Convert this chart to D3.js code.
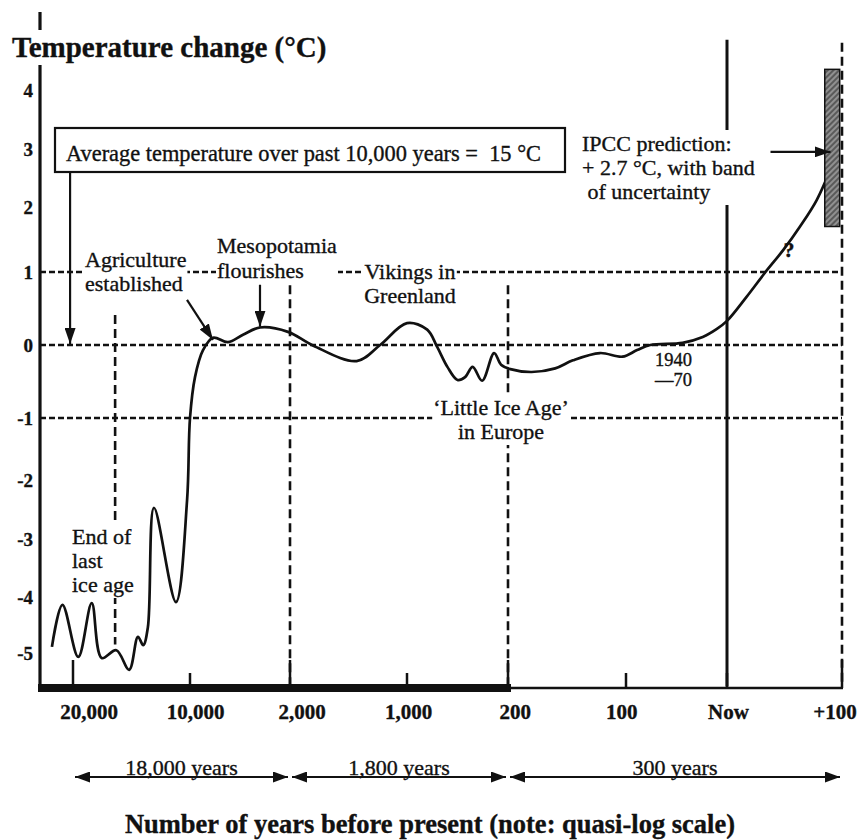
<!DOCTYPE html>
<html><head><meta charset="utf-8">
<script src="https://cdn.jsdelivr.net/npm/d3@7/dist/d3.min.js"></script>
<style>
html,body{margin:0;padding:0;background:#fff;}
svg{display:block;}
text{font-family:"Liberation Serif","Times New Roman",Times,serif;fill:#111;stroke:#111;stroke-width:0.35px;}
</style></head>
<body><svg id="chart" width="858" height="840"></svg>
<script>
// ---------- data ----------
const xTickYears  = [20000, 10000, 2000, 1000, 200, 100, 0, -100];
const xTickLabels = ["20,000", "10,000", "2,000", "1,000", "200", "100", "Now", "+100"];
const yTicks      = [-5, -4, -3, -2, -1, 0, 1, 2, 3, 4];
const gridTemps   = [1, 0, -1];
const spanBounds  = [20000, 2000, 200, -100];
const spanLabels  = ["18,000 years", "1,800 years", "300 years"];

const pastYears = [21800, 20900, 19550, 18400, 17550, 16300, 15200, 14450, 14000, 13600,
                   13080, 11200, 10250, 10000, 9600, 8960, 8160, 6960, 5760, 4400,
                   2160, 1800, 1430, 1230, 1000, 840, 760, 680, 600, 540,
                   480, 405, 310, 255, 198, 180, 160, 145, 122, 103,
                   89, 76, 44, 24, 10, 0];
const pastTemps = [-4.89, -4.14, -5.07, -4.11, -5.09, -4.95, -5.30, -4.71, -4.86, -4.54,
                   -2.47, -4.09, -2.34, -1.00, -0.44, -0.07, 0.10, 0.04, 0.14, 0.24,
                   0.18, -0.01, -0.22, 0.00, 0.30, 0.21, -0.03, -0.30, -0.48, -0.44,
                   -0.30, -0.49, -0.11, -0.27, -0.33, -0.37, -0.32, -0.21, -0.11, -0.16,
                   -0.07, 0.00, 0.03, 0.11, 0.22, 0.33];
const projYears = [-17, -33, -49, -63.5, -78, -92];
const projTemps = [0.66, 0.99, 1.34, 1.70, 2.12, 2.75];

const bandYears = [-85, -98];     // IPCC uncertainty band (years after present)
const bandTemps = [1.7, 4.35];
const ipccArrowTarget = [-90, 2.95];
const avgArrowTarget  = [20250, 0];
const agriArrowTarget = [8160, 0.07];
const mesoArrowTarget = [4400, 0.25];

const dividerYears   = [16400, 2000, 200, 0, -100];
const dividerTops    = [0.41, 0.82, 0.82, 4.85, 4.8];
const dividerBottoms = [-4.85, -5.6, -5.6, -5.6, -5.6];
const dividerSolid   = [false, false, false, true, false];

// ---------- scales ----------
const INK = "#111";
const svg = d3.select("#chart");
const x = d3.scaleLinear().domain(xTickYears).range([73, 190, 290, 407, 508, 626, 727, 842]);
const y = d3.scaleLinear().domain(yTicks).range([653, 597, 539, 480, 418, 345, 272, 207, 149, 90]);
const xLab = d3.scalePoint().domain(xTickLabels).range([89, 835]);
const axisY = 688, axisX = 40;

// ---------- defs ----------
const defs = svg.append("defs");
function marker(id, w, h) {
  defs.append("marker").attr("id", id).attr("viewBox", `0 0 ${w} ${h}`)
    .attr("refX", w).attr("refY", h / 2).attr("markerWidth", w).attr("markerHeight", h)
    .attr("markerUnits", "userSpaceOnUse").attr("orient", "auto-start-reverse")
    .append("path").attr("d", `M0,0L${w},${h / 2}L0,${h}Z`).attr("fill", INK);
}
marker("ah", 16, 11);
marker("ahs", 15, 11);
const pat = defs.append("pattern").attr("id", "hatch").attr("patternUnits", "userSpaceOnUse")
  .attr("width", 4).attr("height", 4).attr("patternTransform", "rotate(45)");
pat.append("rect").attr("width", 4).attr("height", 4).attr("fill", "#5a5a5a");
pat.append("line").attr("x1", 1).attr("y1", 0).attr("x2", 1).attr("y2", 4)
  .attr("stroke", "#b5b5b5").attr("stroke-width", 1.2);

// ---------- y axis line (under the title mask) ----------
svg.append("line").attr("x1", axisX).attr("x2", axisX).attr("y1", 12).attr("y2", axisY + 4)
  .attr("stroke", INK).attr("stroke-width", 3.2);

// ---------- gridlines ----------
svg.append("g").selectAll("line").data(gridTemps).join("line")
  .attr("x1", axisX).attr("x2", x(-100)).attr("y1", d => y(d)).attr("y2", d => y(d))
  .attr("stroke", INK).attr("stroke-width", 2.3).attr("stroke-dasharray", "6,3");

// ---------- vertical dividers ----------
svg.append("g").selectAll("line").data(dividerYears).join("line")
  .attr("x1", d => x(d)).attr("x2", d => x(d))
  .attr("y1", (d, i) => y(dividerTops[i]))
  .attr("y2", (d, i) => Math.min(y(dividerBottoms[i]), axisY))
  .attr("stroke", INK)
  .attr("stroke-width", (d, i) => dividerSolid[i] ? 3 : 2.6)
  .attr("stroke-dasharray", (d, i) => dividerSolid[i] ? null : "9,5");

// ---------- annotation text with white masks ----------
function note(lines, px, py, o = {}) {
  const anchor = o.anchor || "start", size = o.size || 22, lh = o.lh || 24,
        weight = o.weight || "normal", pad = o.pad == null ? 1 : o.pad;
  const g = svg.append("g");
  const t = g.append("text").attr("x", px).attr("y", py).attr("text-anchor", anchor)
    .attr("font-size", size).attr("font-weight", weight);
  lines.forEach((s, i) => t.append("tspan").attr("x", px).attr("dy", i ? lh : 0).text(s));
  if (o.mask !== false) {
    const b = t.node().getBBox();
    g.insert("rect", "text").attr("x", b.x - pad).attr("y", b.y - pad)
      .attr("width", b.width + 2 * pad).attr("height", b.height + 2 * pad)
      .attr("fill", "#fff").attr("stroke", "none");
  }
  return g;
}

note(["Temperature change (°C)"], 12, 57, {size: 29, weight: "bold", pad: 1});
note(["Agriculture", "established"], 85, 267, {lh: 24});
note(["Mesopotamia", "flourishes"], 217, 253, {lh: 25});
note(["Vikings in", "Greenland"], 410, 279, {anchor: "middle", lh: 24});
note(["‘Little Ice Age’", "in Europe"], 501, 415, {anchor: "middle", lh: 24});
note(["End of", "last", "ice age"], 72, 544, {lh: 24});
note(["IPCC prediction:", "+ 2.7 °C, with band", " of uncertainty"], 582, 151, {lh: 24});
note(["1940", "—70"], 692, 366, {anchor: "end", size: 18.5, lh: 20, mask: false});
note(["?"], 789, 257, {anchor: "middle", size: 22, weight: "bold", mask: false});

// ---------- average temperature box ----------
svg.append("rect").attr("x", 55).attr("y", 128).attr("width", 510).attr("height", 44)
  .attr("fill", "#fff").attr("stroke", INK).attr("stroke-width", 2.2);
svg.append("text").attr("x", 66).attr("y", 161).attr("font-size", 22.4)
  .attr("xml:space", "preserve").text("Average temperature over past 10,000 years =  15 °C");

// ---------- x axis ----------
svg.append("rect").attr("x", axisX - 2).attr("y", axisY - 4)
  .attr("width", x(200) + 3 - (axisX - 2)).attr("height", 8).attr("fill", INK);
svg.append("line").attr("x1", x(200)).attr("x2", x(-100) + 1).attr("y1", axisY).attr("y2", axisY)
  .attr("stroke", INK).attr("stroke-width", 2.5);
svg.append("g").selectAll("line").data(xTickYears).join("line")
  .attr("x1", d => x(d)).attr("x2", d => x(d))
  .attr("y1", axisY).attr("y2", d => axisY - (spanBounds.includes(d) ? 28 : 15))
  .attr("stroke", INK).attr("stroke-width", 2.5);

svg.append("g").selectAll("text").data(xTickLabels).join("text")
  .attr("x", d => xLab(d)).attr("y", 719).attr("text-anchor", "middle")
  .attr("font-size", 21).attr("font-weight", "bold").text(d => d);

svg.append("g").selectAll("text").data(yTicks).join("text")
  .attr("x", 33).attr("y", d => y(d)).attr("dy", "0.35em").attr("text-anchor", "end")
  .attr("font-size", 19).attr("font-weight", "bold").text(d => d);

// ---------- span arrows ----------
const spans = spanLabels.map((s, i) => ({a: spanBounds[i], b: spanBounds[i + 1], label: s}));
const sg = svg.append("g");
sg.selectAll("line").data(spans).join("line")
  .attr("x1", d => x(d.a) + 2).attr("x2", d => x(d.b) - 2).attr("y1", 777).attr("y2", 777)
  .attr("stroke", INK).attr("stroke-width", 2)
  .attr("marker-start", "url(#ahs)").attr("marker-end", "url(#ahs)");
sg.selectAll("text").data(spans).join("text")
  .attr("x", d => (x(d.a) + x(d.b)) / 2).attr("y", 775).attr("text-anchor", "middle")
  .attr("font-size", 22).text(d => d.label);

svg.append("text").attr("x", 430).attr("y", 833).attr("text-anchor", "middle")
  .attr("font-size", 26.5).attr("font-weight", "bold")
  .text("Number of years before present (note: quasi-log scale)");

// ---------- temperature curve ----------
const pts = pastYears.map((yr, i) => [yr, pastTemps[i]])
  .concat(projYears.map((yr, i) => [yr, projTemps[i]]));
const line = d3.line().x(d => x(d[0])).y(d => y(d[1])).curve(d3.curveCatmullRom.alpha(0.5));
svg.append("path").attr("d", line(pts)).attr("fill", "none")
  .attr("stroke", INK).attr("stroke-width", 2.7).attr("stroke-linejoin", "round");

// ---------- IPCC band ----------
svg.append("rect")
  .attr("x", x(bandYears[0])).attr("width", x(bandYears[1]) - x(bandYears[0]))
  .attr("y", y(bandTemps[1])).attr("height", y(bandTemps[0]) - y(bandTemps[1]))
  .attr("fill", "url(#hatch)").attr("stroke", INK).attr("stroke-width", 1.5);

// ---------- annotation arrows ----------
function arrow(x1, y1, x2, y2) {
  svg.append("line").attr("x1", x1).attr("y1", y1).attr("x2", x2).attr("y2", y2)
    .attr("stroke", INK).attr("stroke-width", 2.2).attr("marker-end", "url(#ah)");
}
arrow(x(avgArrowTarget[0]), 172, x(avgArrowTarget[0]), y(avgArrowTarget[1]) - 1);
arrow(x(agriArrowTarget[0]) - 26, y(agriArrowTarget[1]) - 40, x(agriArrowTarget[0]), y(agriArrowTarget[1]));
arrow(x(mesoArrowTarget[0]), y(mesoArrowTarget[1]) - 42, x(mesoArrowTarget[0]), y(mesoArrowTarget[1]));
arrow(x(ipccArrowTarget[0]) - 60, y(ipccArrowTarget[1]), x(ipccArrowTarget[0]), y(ipccArrowTarget[1]));
</script>
</body></html>
